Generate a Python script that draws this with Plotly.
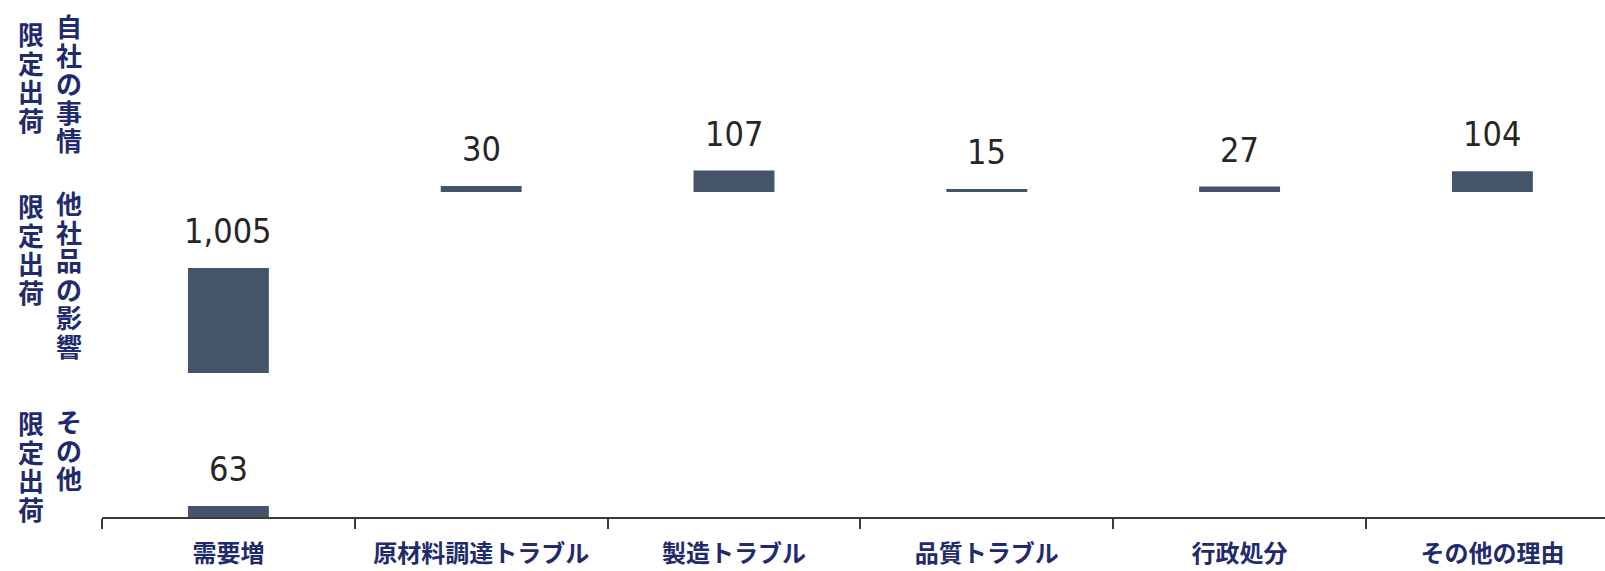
import plotly.graph_objects as go

# ---------------- data ----------------
categories = ["需要増", "原材料調達トラブル", "製造トラブル", "品質トラブル", "行政処分", "その他の理由"]
own_reason_values = [None, 30, 107, 15, 27, 104]          # 自社の事情 限定出荷
other_company_values = [1005, None, None, None, None, None]  # 他社品の影響 限定出荷
other_values = [63, None, None, None, None, None]           # その他 限定出荷

row_labels_left = ["限定出荷", "限定出荷", "限定出荷"]
row_labels_right = ["自社の事情", "他社品の影響", "その他"]

# ---------------- style / layout ----------------
W, H = 1605, 571
ML, MR, MT, MB = 102, 0, 0, 54
PW, PH = W - ML - MR, H - MT - MB

BAR_COLOR = "#44546A"
NAVY = "#1F2B6C"
NUM_FONT = dict(family="DejaVu Sans Condensed, DejaVu Sans, sans-serif", size=34, color="#262626")
CJK = "Noto Sans CJK JP"

# pixel layout of each row: (baseline px from top, domain height px, px per unit)
rows = [
    dict(axis="y", values=own_reason_values, base=192, height=110, scale=0.2),
    dict(axis="y2", values=other_company_values, base=373, height=150, scale=0.1045),
    dict(axis="y3", values=other_values, base=517, height=110, scale=0.175),
]

fig = go.Figure()

for i, r in enumerate(rows):
    fig.add_trace(go.Bar(
        x=categories, y=r["values"], xaxis="x", yaxis=r["axis"],
        marker=dict(color=BAR_COLOR, line=dict(width=0)),
        width=0.32, showlegend=False, hoverinfo="skip",
    ))
    lo = (MT + PH - r["base"]) / PH
    hi = (MT + PH - r["base"] + r["height"]) / PH
    rng = [0, r["height"] / r["scale"]]
    key = "yaxis" if r["axis"] == "y" else "yaxis" + r["axis"][1:]
    fig.layout[key] = dict(domain=[lo, hi], range=rng, visible=False, showgrid=False,
                           zeroline=False, fixedrange=True, anchor="x")
    for c, v in zip(categories, r["values"]):
        if v is None:
            continue
        fig.add_annotation(x=c, y=v, xref="x", yref=r["axis"], text=f"{v:,}",
                           showarrow=False, yanchor="bottom", yshift=15,
                           font=NUM_FONT)

# vertical row labels: one stacked annotation per column
def px_to_paper(xp, yp):
    return (xp - ML) / PW, (MT + PH - yp) / PH

label_starts = [(34, 25), (206, 202), (423, 420)]  # first char centre y (px) for left/right column
BASE_SIZE = 22          # sets line pitch (1.3 * 22 = 28.6 px)
GLYPH_SIZE = 26
PITCH = 1.3 * BASE_SIZE


def vertical(text):
    return "<br>".join(f'<span style="font-size:{GLYPH_SIZE}px">{ch}</span>' for ch in text)


for (left, right), (y0l, y0r) in zip(zip(row_labels_left, row_labels_right), label_starts):
    for txt, xc, y0 in ((left, 31, y0l), (right, 69, y0r)):
        yc = y0 + (len(txt) - 1) * PITCH / 2
        xp, yp = px_to_paper(xc, yc)
        fig.add_annotation(x=xp, y=yp, xref="paper", yref="paper", text=vertical(txt),
                           showarrow=False, xanchor="center", yanchor="middle",
                           align="center", borderpad=0,
                           font=dict(family=CJK, size=BASE_SIZE, color=NAVY, weight="bold"))

fig.update_layout(
    width=W, height=H,
    margin=dict(l=ML, r=MR, t=MT, b=MB, autoexpand=False),
    paper_bgcolor="white", plot_bgcolor="white",
    xaxis=dict(
        type="category", categoryorder="array", categoryarray=categories,
        range=[-0.5, -0.5 + PW / 252.8], anchor="y3", domain=[0, 1],
        showline=True, linecolor="#3a3a3a", linewidth=2,
        ticks="outside", tickson="boundaries", ticklen=10, tickwidth=2, tickcolor="#3a3a3a",
        tickfont=dict(family=CJK, size=24, color=NAVY, weight="bold"),
        ticklabelstandoff=14,
        showgrid=False, zeroline=False, fixedrange=True, automargin=False,
    ),
)

fig.write_html("out.html")
